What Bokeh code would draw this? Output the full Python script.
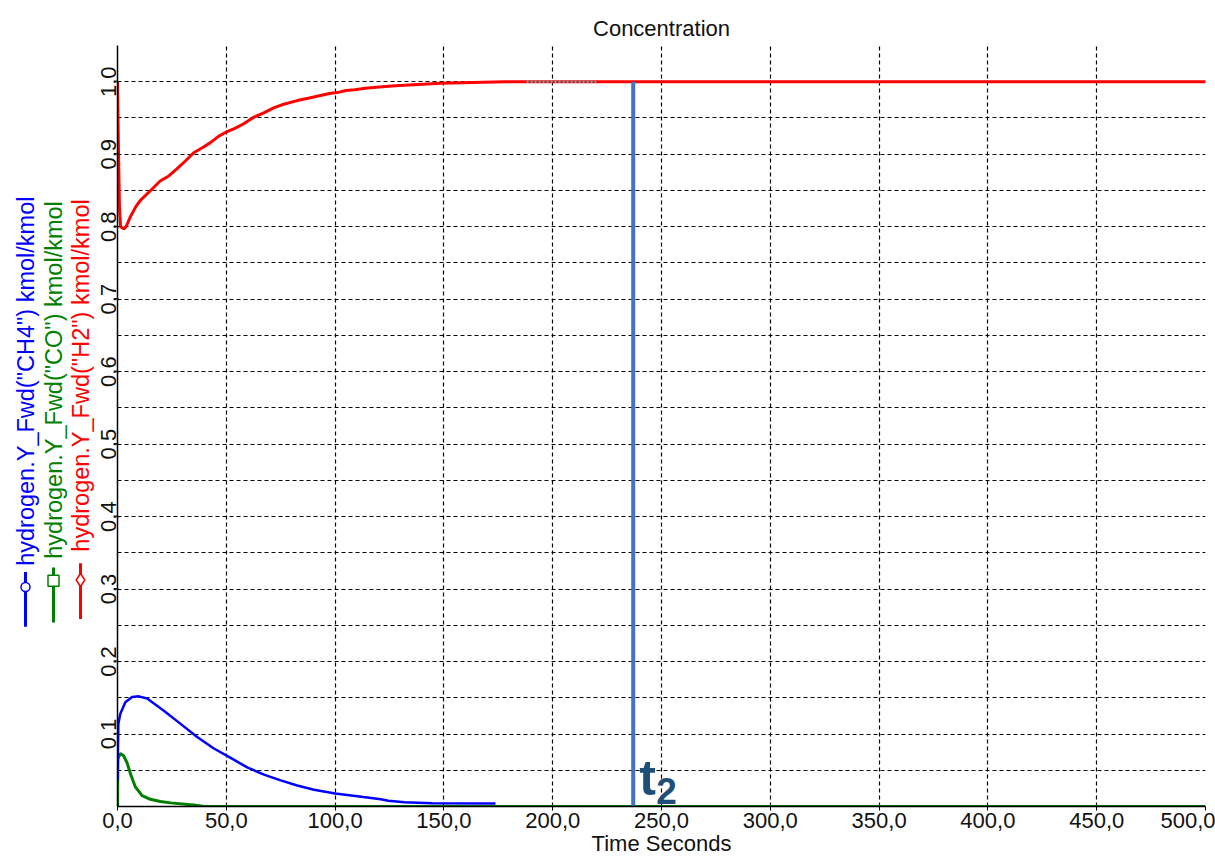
from math import pi
from bokeh.plotting import figure
from bokeh.models import Range1d, FixedTicker, Label
from bokeh.layouts import row
from bokeh.core.properties import value
from bokeh.embed import file_html
from bokeh.resources import INLINE

# ---------------- data ----------------
time_h2 = [0, 0.4, 0.9, 1.4, 2.9, 3.7, 4.4, 5.8, 8.3, 10.4, 15.2, 19.6, 23.6, 27.4, 31.3,
           35, 39, 42.7, 46.6, 49.6, 54.2, 58, 62.6, 67.2, 71.8, 76.4, 82.6, 88.7, 94.8,
           98, 101, 105, 109, 114, 119, 126, 136, 148.5, 178, 500]
h2 = [1.0, 0.915, 0.827, 0.800, 0.797, 0.799, 0.803, 0.813, 0.827, 0.836, 0.850, 0.863,
      0.870, 0.880, 0.891, 0.902, 0.909, 0.916, 0.925, 0.930, 0.936, 0.942, 0.951,
      0.957, 0.964, 0.969, 0.974, 0.978, 0.982, 0.984, 0.985, 0.988, 0.989, 0.991,
      0.9925, 0.994, 0.996, 0.998, 1.0, 1.0]

time_ch4 = [0, 0.4, 1.3, 3.6, 6.7, 9.8, 13.6, 21.3, 29, 36.6, 44.3, 52, 59.6, 67.3, 75,
            82.6, 90.3, 100, 113, 121, 124.5, 131.9, 144.7, 173.7]
ch4 = [0.036, 0.114, 0.128, 0.144, 0.151, 0.152, 0.149, 0.132, 0.114, 0.096, 0.080,
       0.067, 0.054, 0.044, 0.036, 0.029, 0.023, 0.018, 0.013, 0.010, 0.008, 0.006,
       0.0045, 0.004]

time_co = [0, 0.2, 1.3, 2.8, 4.3, 6.2, 8.2, 11.3, 15.1, 19.7, 24.4, 35, 40, 500]
co = [0.0, 0.066, 0.073, 0.070, 0.061, 0.043, 0.027, 0.015, 0.010, 0.007, 0.005,
      0.002, 0.0, 0.0]

time_cyan = [188, 220]
cyan = [1.0, 1.0]

t2_time = 237.0
t2_top = 1.0

x_ticks = [0, 50, 100, 150, 200, 250, 300, 350, 400, 450, 500]
x_tick_labels = ["0,0", "50,0", "100,0", "150,0", "200,0", "250,0", "300,0",
                 "350,0", "400,0", "450,0", "500,0"]
y_ticks = [0.1, 0.2, 0.3, 0.4, 0.5, 0.6, 0.7, 0.8, 0.9, 1.0]
y_tick_labels = ["0,1", "0,2", "0,3", "0,4", "0,5", "0,6", "0,7", "0,8", "0,9", "1,0"]
y_minor = [0.05, 0.15, 0.25, 0.35, 0.45, 0.55, 0.65, 0.75, 0.85, 0.95, 1.05]

series_names = ['hydrogen.Y_Fwd("CH4") kmol/kmol',
                'hydrogen.Y_Fwd("CO") kmol/kmol',
                'hydrogen.Y_Fwd("H2") kmol/kmol']
series_colors = ["#0000FF", "#008000", "#FF0000"]

FONT = "Liberation Sans"
H = 860
TOTAL_W = 1215

# ---------------- legend (left, rotated) ----------------
LW = 96
leg = figure(width=LW, height=H, output_backend="svg", toolbar_location=None,
             x_range=Range1d(0, LW), y_range=Range1d(0, H), min_border=0)
leg.axis.visible = False
leg.grid.visible = False
leg.outline_line_color = None

leg_x = [25, 53, 80]
leg_y0 = [203, 208, 212]
leg_y1 = [265, 270, 275]
leg_my = [248, 255, 256]
leg_ty = [272, 280, 288]
markers = ["circle", "square", "diamond"]
msizes = [9, 11, 13]
for i in range(3):
    leg.line([leg_x[i], leg_x[i]], [leg_y0[i], leg_y1[i]], line_color=series_colors[i],
             line_width=3)
    leg.scatter([leg_x[i]], [leg_my[i]], marker=markers[i], size=msizes[i],
                fill_color="white", line_color=series_colors[i], line_width=1.5)
    leg.text([leg_x[i]], [leg_ty[i]], text=[series_names[i]], angle=pi / 2,
             text_align="left", text_baseline="middle", text_color=series_colors[i],
             text_font=value(FONT), text_font_size="23.5px")

# ---------------- main plot ----------------
p = figure(width=TOTAL_W - LW, height=H, output_backend="svg", toolbar_location=None,
           x_range=Range1d(0, 500), y_range=Range1d(0, 1.05),
           min_border_left=117 - LW, min_border_right=10, min_border_top=45,
           min_border_bottom=54, title="Concentration")
p.outline_line_color = None
p.title.align = "center"
p.title.text_font = FONT
p.title.text_font_size = "22px"
p.title.text_font_style = "normal"
p.title.text_color = "#111111"

p.xaxis.ticker = FixedTicker(ticks=x_ticks)
p.xaxis.major_label_overrides = {t: l for t, l in zip(x_ticks, x_tick_labels)}
p.xaxis.axis_label = "Time Seconds"
p.xaxis.axis_label_text_font = FONT
p.xaxis.axis_label_text_font_size = "22px"
p.xaxis.axis_label_text_font_style = "normal"
p.xaxis.axis_label_standoff = 0
p.xaxis.major_label_text_font = FONT
p.xaxis.major_label_text_font_size = "22px"
p.xaxis.major_label_standoff = 2
p.xaxis.major_tick_out = 4
p.xaxis.major_tick_in = 0
p.xaxis.minor_tick_line_color = None

p.yaxis.ticker = FixedTicker(ticks=y_ticks, minor_ticks=y_minor)
p.yaxis.major_label_overrides = {t: l for t, l in zip(y_ticks, y_tick_labels)}
p.yaxis.major_label_orientation = "vertical"
p.yaxis.major_label_text_font = FONT
p.yaxis.major_label_text_font_size = "22px"
p.yaxis.major_label_standoff = 1
p.yaxis.major_tick_out = 0
p.yaxis.major_tick_in = 0
p.yaxis.minor_tick_out = 0
p.yaxis.minor_tick_in = 0

for ax in (p.xaxis, p.yaxis):
    ax.axis_line_color = "black"
    ax.axis_line_width = 1.5
    ax.major_label_text_color = "#111111"
    ax.axis_label_text_color = "#111111"

p.xgrid.grid_line_color = "black"
p.xgrid.grid_line_dash = "4 3"
p.xgrid.grid_line_width = 1.2
p.ygrid.grid_line_color = "black"
p.ygrid.grid_line_dash = "4 3"
p.ygrid.grid_line_width = 1.2
p.ygrid.minor_grid_line_color = "black"
p.ygrid.minor_grid_line_dash = "4 3"
p.ygrid.minor_grid_line_width = 1.2

p.line(time_co, co, line_color=series_colors[1], line_width=3)
p.line(time_ch4, ch4, line_color=series_colors[0], line_width=2.5)
p.line(time_h2, h2, line_color=series_colors[2], line_width=3)
p.line(time_cyan, cyan, line_color="#40C0C8", line_width=2, line_dash="2 2")

p.segment(x0=[t2_time], y0=[0.0], x1=[t2_time], y1=[t2_top], line_color="#4472C4",
          line_width=4)
p.add_layout(Label(x=t2_time, y=0.040, x_offset=6, text="t", text_font=FONT,
                   text_font_size="50px", text_font_style="bold", text_color="#1F4E79",
                   text_baseline="alphabetic"))
p.add_layout(Label(x=t2_time, y=0.022, x_offset=23, text="2", text_font=FONT,
                   text_font_size="37px", text_font_style="bold", text_color="#1F4E79",
                   text_baseline="alphabetic"))

layout = row(leg, p)
open("out.html", "w").write(file_html(layout, INLINE))
